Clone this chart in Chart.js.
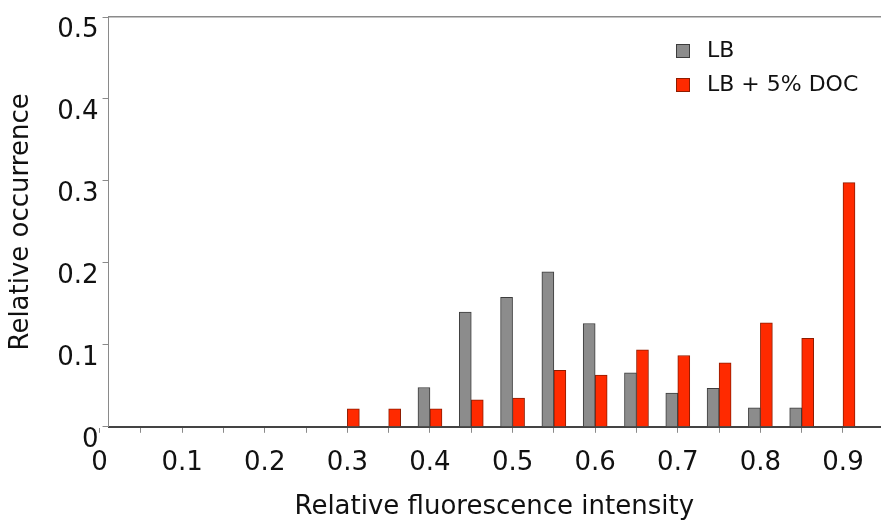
<!DOCTYPE html>
<html lang="en">
<head>
<meta charset="UTF-8">
<title>Relative fluorescence intensity</title>
<script src="https://cdn.jsdelivr.net/npm/chart.js"></script>
<style>
  html, body { margin: 0; padding: 0; background: #fff; }
  canvas { display: block; }
</style>
</head>
<body>
<canvas id="myChart" width="883" height="524"></canvas>
<script>
// bin centres (relative fluorescence intensity)
const bins = [0.3, 0.35, 0.4, 0.45, 0.5, 0.55, 0.6, 0.65, 0.7, 0.75, 0.8, 0.85, 0.9];
// relative occurrence per bin
const lbValues  = [null, null, 0.048, 0.140, 0.158, 0.189, 0.126, 0.066, 0.041, 0.047, 0.023, 0.023, null];
const docValues = [0.022, 0.022, 0.022, 0.033, 0.035, 0.069, 0.063, 0.094, 0.087, 0.078, 0.127, 0.108, 0.298];
// axis ticks
const xTicks = [0, 0.05, 0.1, 0.15, 0.2, 0.25, 0.3, 0.35, 0.4, 0.45, 0.5, 0.55, 0.6, 0.65, 0.7, 0.75, 0.8, 0.85, 0.9];
const yTicks = [0, 0.1, 0.2, 0.3, 0.4, 0.5];

Chart.defaults.font.family = '"DejaVu Sans", sans-serif';
Chart.defaults.color = '#111';

// legend drawn inside the plot, top right
const insideLegend = {
  id: 'insideLegend',
  afterDraw(chart) {
    const { ctx, chartArea } = chart;
    const x0 = chartArea.right - 204;
    ctx.save();
    ctx.font = '22px "DejaVu Sans", sans-serif';
    ctx.textBaseline = 'middle';
    chart.data.datasets.forEach((ds, i) => {
      const cy = chartArea.top + 34 + i * 34;
      ctx.fillStyle = ds.backgroundColor;
      ctx.strokeStyle = ds.borderColor;
      ctx.lineWidth = 1;
      ctx.fillRect(x0, cy - 7, 14, 14);
      ctx.strokeRect(x0 + 0.5, cy - 6.5, 13, 13);
      ctx.fillStyle = '#111';
      ctx.fillText(ds.label, x0 + 31, cy);
    });
    ctx.restore();
  }
};

const ctx = document.getElementById('myChart').getContext('2d');
const chart = new Chart(ctx, {
  type: 'bar',
  data: {
    labels: bins,
    datasets: [
      {
        label: 'LB',
        data: lbValues,
        backgroundColor: '#8c8c8c',
        borderColor: '#3c3c3c',
        borderWidth: 1
      },
      {
        label: 'LB + 5% DOC',
        data: docValues,
        backgroundColor: '#ff2a00',
        borderColor: '#8e1c00',
        borderWidth: 1
      }
    ]
  },
  options: {
    responsive: false,
    animation: false,
    devicePixelRatio: 1,
    barThickness: 12,
    layout: { padding: { left: 0, right: 3, top: 14, bottom: 0 } },
    plugins: {
      legend: { display: false },
      tooltip: { enabled: false }
    },
    scales: {
      x: {
        type: 'linear',
        position: 'bottom',
        offset: false,
        min: 0.0109,
        max: 0.9448,
        afterBuildTicks: (scale) => { scale.ticks = xTicks.map(v => ({ value: v })); },
        ticks: {
          autoSkip: false,
          maxRotation: 0,
          padding: 15,
          font: { size: 26 },
          color: '#111',
          callback: (v) => Math.abs(v * 10 - Math.round(v * 10)) < 1e-6 ? String(Math.round(v * 10) / 10) : ''
        },
        grid: { drawOnChartArea: false, tickLength: 6, color: '#8a8a8a', offset: false },
        border: { color: '#444', width: 2 },
        title: {
          display: true,
          text: 'Relative fluorescence intensity',
          font: { size: 26, lineHeight: 1 },
          color: '#111',
          padding: { top: 0, bottom: 4 }
        }
      },
      xTop: {
        type: 'linear',
        axis: 'x',
        position: 'top',
        offset: false,
        ticks: { display: false },
        grid: { display: false, drawTicks: false },
        border: { color: '#8a8a8a', width: 1.5 }
      },
      y: {
        min: 0,
        max: 0.5,
        afterBuildTicks: (scale) => { scale.ticks = yTicks.map(v => ({ value: v })); },
        ticks: {
          padding: 4,
          labelOffset: 13,
          font: { size: 26, lineHeight: 1 },
          color: '#111',
          callback: (v) => String(Math.round(v * 10) / 10)
        },
        grid: { drawOnChartArea: false, tickLength: 6, color: '#8a8a8a' },
        border: { color: '#8a8a8a', width: 1 },
        title: {
          display: true,
          text: 'Relative occurrence',
          font: { size: 26 },
          color: '#111',
          padding: { top: 6, bottom: 16 }
        }
      }
    }
  },
  plugins: [insideLegend]
});
</script>
</body>
</html>
